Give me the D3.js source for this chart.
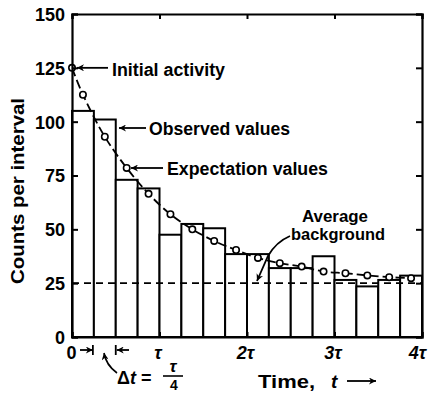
<!DOCTYPE html>
<html><head><meta charset="utf-8">
<script src="https://cdn.jsdelivr.net/npm/d3@7"></script>
<style>
body{margin:0;background:#fff;}
text{font-family:"Liberation Sans",Arial,sans-serif;font-weight:bold;fill:#000;}
</style></head>
<body>
<svg id="c" width="439" height="394"></svg>
<script>
// ---- data ----
const binStart = [0,0.25,0.5,0.75,1,1.25,1.5,1.75,2,2.25,2.5,2.75,3,3.25,3.5,3.75];
const binWidth = 0.25;
const observed = [105,101,73,69,47.5,52.5,50.5,38.5,38.5,32,32,37.5,26.5,23.5,26.5,28.5];
const expectTime = [0,0.125,0.375,0.625,0.875,1.125,1.375,1.625,1.875,2.125,2.375,2.625,2.875,3.125,3.375,3.625,3.875];
const expectVal = [125,112.5,93,78.5,66.5,57,50,44.6,40.4,36.7,34.3,32.7,30.4,29.6,28.6,27.8,27.3];
const background = 25;
const yTicks = [0,25,50,75,100,125,150];
const xTicks = [0,1,2,3,4];
const xTickLabels = ["0","τ","2τ","3τ","4τ"];

const svg = d3.select("#c");
const x = d3.scaleLinear().domain([0,4]).range([72,422]);
const y = d3.scaleLinear().domain([0,150]).range([337,14]);

// markers
const defs = svg.append("defs");
defs.append("marker").attr("id","ah").attr("viewBox","0 0 10 10").attr("refX",10).attr("refY",5)
  .attr("markerWidth",9).attr("markerHeight",7).attr("markerUnits","userSpaceOnUse").attr("orient","auto")
  .append("path").attr("d","M0,0 L10,5 L0,10 L3,5 Z").attr("fill","#000");

// bars
svg.append("g").selectAll("rect").data(observed).join("rect")
  .attr("x",(d,i)=>x(binStart[i]))
  .attr("width",(d,i)=>x(binStart[i]+binWidth)-x(binStart[i]))
  .attr("y",d=>y(d)).attr("height",d=>y(0)-y(d))
  .attr("fill","#fff").attr("stroke","#000").attr("stroke-width",2);

// background dashed line
svg.append("line").attr("x1",x(0)).attr("x2",x(4)).attr("y1",y(background)).attr("y2",y(background))
  .attr("stroke","#000").attr("stroke-width",1.6).attr("stroke-dasharray","7,5");

// expectation curve
const pts = expectTime.map((t,i)=>[t,expectVal[i]]);
svg.append("path").datum(pts)
  .attr("d",d3.line().x(d=>x(d[0])).y(d=>y(d[1])).curve(d3.curveCatmullRom))
  .attr("fill","none").attr("stroke","#000").attr("stroke-width",1.8).attr("stroke-dasharray","9,4");
svg.append("g").selectAll("circle").data(pts).join("circle")
  .attr("cx",d=>x(d[0])).attr("cy",d=>y(d[1])).attr("r",3.2)
  .attr("fill","#fff").attr("stroke","#000").attr("stroke-width",1.6);

// axes
const fs = 18;
const gl = svg.append("g").attr("transform",`translate(${x(0)},0)`)
  .call(d3.axisLeft(y).tickValues(yTicks).tickSize(-6).tickPadding(7));
const gr = svg.append("g").attr("transform",`translate(${x(4)},0)`)
  .call(d3.axisRight(y).tickValues(yTicks).tickSize(-6).tickFormat(""));
const gt = svg.append("g").attr("transform",`translate(0,${y(150)})`)
  .call(d3.axisTop(x).tickValues(xTicks).tickSize(-5).tickFormat(""));
const gb = svg.append("g").attr("transform",`translate(0,${y(0)})`)
  .call(d3.axisBottom(x).tickValues(xTicks).tickSize(-5).tickPadding(9).tickFormat((d,i)=>xTickLabels[i]));
[gl,gr,gt,gb].forEach(g=>{
  g.select(".domain").attr("stroke","#000").attr("stroke-width",2.2);
  g.selectAll(".tick line").attr("stroke","#000").attr("stroke-width",2);
  g.selectAll("text").style("font-size",fs+"px").style("font-family","Liberation Sans, Arial, sans-serif").style("font-weight","bold");
});
gb.selectAll(".tick text").style("font-style",(d,i)=>i===0?"normal":"italic")
  .attr("dx",(d,i)=>i===0?-1:(i===4?-5:-2));
gl.selectAll(".tick text").attr("dy","0.36em");

// y title
svg.append("text").attr("transform","translate(24,191) rotate(-90)").attr("text-anchor","middle")
  .attr("textLength",186).attr("lengthAdjust","spacingAndGlyphs")
  .style("font-size","18px").text("Counts per interval");

// annotations
function label(tx,ty,str,len,size){
  return svg.append("text").attr("x",tx).attr("y",ty).attr("textLength",len).attr("lengthAdjust","spacingAndGlyphs")
    .style("font-size",(size||18)+"px").text(str);
}
function arrow(x1,y1,x2,y2){
  svg.append("line").attr("x1",x1).attr("y1",y1).attr("x2",x2).attr("y2",y2)
    .attr("stroke","#000").attr("stroke-width",1.8).attr("marker-end","url(#ah)");
}
label(112,76,"Initial activity",113);
arrow(108,y(125),77,y(125));
label(149,135,"Observed values",141);
arrow(146,128,119,128);
label(167,175,"Expectation values",161);
arrow(163,168,131,168);
label(302,222,"Average",66,16);
label(291,240,"background",94,16);
svg.append("path").attr("d","M290,236 Q276,242 268,256 L257,281")
  .attr("fill","none").attr("stroke","#000").attr("stroke-width",1.8).attr("marker-end","url(#ah)");

// Δt dimension
const yd = 350;
arrow(80,yd,x(0.25)-1,yd);
svg.append("line").attr("x1",x(0.25)-1).attr("x2",x(0.25)-1).attr("y1",yd-5).attr("y2",yd+5).attr("stroke","#000").attr("stroke-width",1.8);
arrow(129,yd,x(0.5)+1,yd);
svg.append("line").attr("x1",x(0.5)).attr("x2",x(0.5)).attr("y1",yd-5).attr("y2",yd+5).attr("stroke","#000").attr("stroke-width",1.8);
svg.append("path").attr("d","M117,373 Q106,365 104,353")
  .attr("fill","none").attr("stroke","#000").attr("stroke-width",1.6).attr("marker-end","url(#ah)");
const dt = svg.append("text").attr("x",117).attr("y",384).style("font-size","18px");
dt.append("tspan").text("Δ");
dt.append("tspan").style("font-style","italic").text("t");
dt.append("tspan").text(" =");
svg.append("text").attr("x",173).attr("y",372).attr("text-anchor","middle").style("font-size","17px").style("font-style","italic").text("τ");
svg.append("line").attr("x1",163).attr("x2",183).attr("y1",376).attr("y2",376).attr("stroke","#000").attr("stroke-width",1.6);
svg.append("text").attr("x",174).attr("y",390).attr("text-anchor","middle").style("font-size","14px").text("4");

// x title
label(258,388,"Time,",57,18);
svg.append("text").attr("x",331).attr("y",388).style("font-size","19px").style("font-style","italic").text("t");
arrow(347,381,376,381);
</script>
</body></html>
